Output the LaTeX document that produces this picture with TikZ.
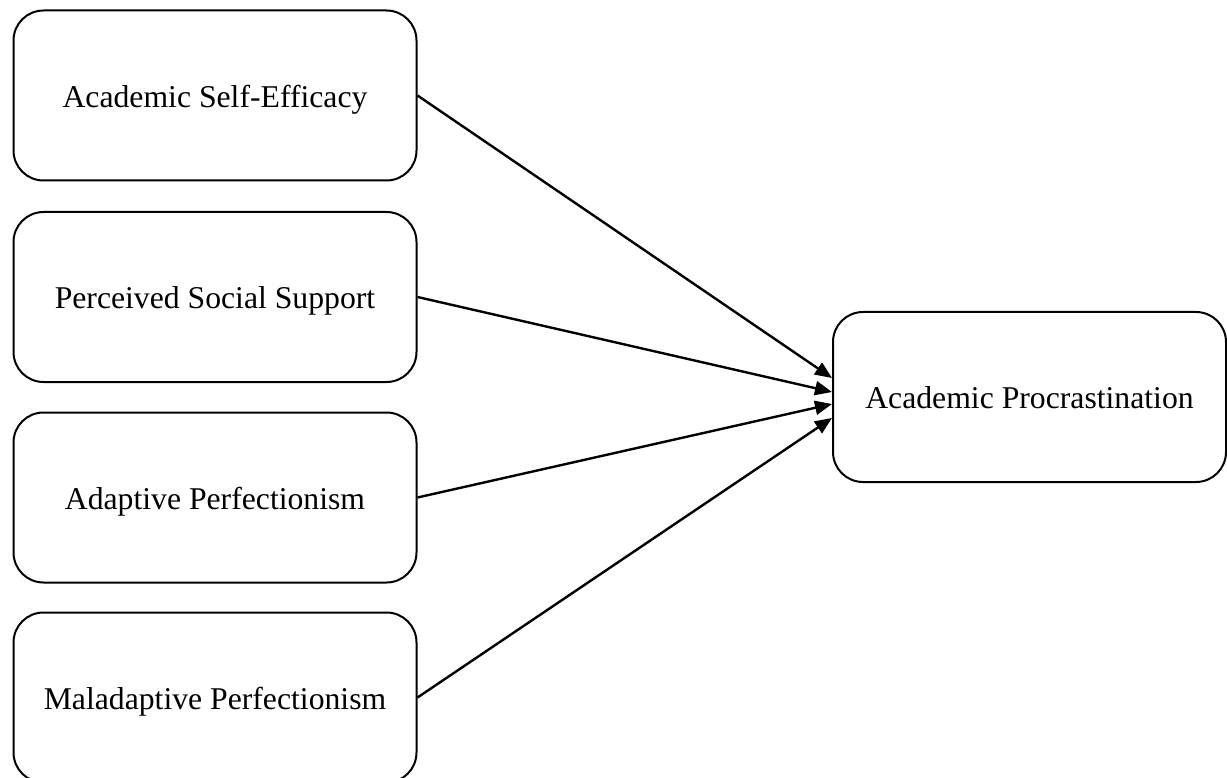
\documentclass[tikz,border=0pt]{standalone}
\usepackage{fontspec}
\setmainfont{Liberation Serif}
\usetikzlibrary{arrows.meta}
\begin{document}
\begin{tikzpicture}[x=1pt,y=-1pt,
  box/.style={draw=black,line width=2pt,rounded corners=30pt,
    minimum width=403pt,minimum height=170pt,inner sep=0pt,
    text height=27.5pt,text depth=4pt,
    font=\fontsize{31.7}{38}\selectfont},
  link/.style={line width=2.4pt,-{Triangle[length=17pt,width=14pt]}}]
\clip (0,0) rectangle (1227,778);
\useasboundingbox (0,0) rectangle (1227,778);
\node[box] (ase) at (215,95.5) {Academic Self-Efficacy};
\node[box] (pss) at (215,297) {Perceived Social Support};
\node[box] (adp) at (215,497.5) {Adaptive Perfectionism};
\node[box] (map) at (215,697.5) {Maladaptive Perfectionism};
\node[box,minimum width=393pt] (ap) at (1029.5,397) {Academic Procrastination};
\draw[link] (ase.east) -- ([yshift=19pt]ap.west);
\draw[link] (pss.east) -- ([yshift=5pt]ap.west);
\draw[link] (adp.east) -- ([yshift=-7pt]ap.west);
\draw[link] (map.east) -- ([yshift=-21pt]ap.west);
\end{tikzpicture}
\end{document}
